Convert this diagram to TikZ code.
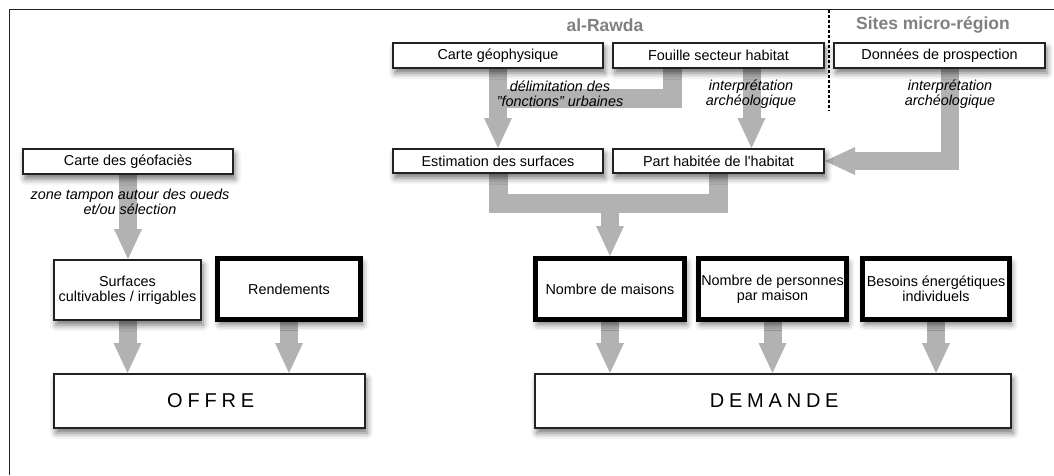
\documentclass[tikz,border=0pt]{standalone}
\usepackage{fontspec}
\setmainfont{Liberation Sans}
\usetikzlibrary{arrows.meta,shadows.blur}
\definecolor{flux}{RGB}{178,178,178}
\definecolor{titre}{RGB}{128,128,128}
\definecolor{trait}{RGB}{34,34,34}
\pgfdeclarelayer{bg}
\pgfsetlayers{bg,main}

\begin{document}
\begin{tikzpicture}[x=1pt, y=-1pt,
  box/.style={draw=trait, line width=2pt, fill=white, inner sep=0pt, align=center,
    font=\fontsize{14.4}{15}\selectfont,
    blur shadow={shadow xshift=2pt, shadow yshift=-5pt, shadow blur radius=6pt, shadow opacity=55}},
  fat/.style={box, draw=black, line width=5pt},
  big/.style={box, font=\fontsize{20}{22}\selectfont\addfontfeature{LetterSpace=24}},
  note/.style={align=center, inner sep=0pt, font=\fontsize{14.4}{14.5}\selectfont\itshape},
  head/.style={text=titre, font=\fontsize{17.5}{18}\selectfont\bfseries},
  flow/.style={draw=flux, line width=18pt, -{Triangle[width=28pt,length=30pt,line width=0pt]}},
  bar/.style={draw=flux, line width=19pt}]
\useasboundingbox (0,0) rectangle (1054,475);
\draw[trait, line width=1.5pt] (9.5,475) -- (9.5,9.5) -- (1054,9.5);
\draw[line width=2pt, dash pattern=on 3pt off 2pt] (829,9.5) -- (829,110);
\node[head] (T_0) at (605,25) {al-Rawda};
\node[head] (T_1) at (933,25) {Sites micro-région};
\node[box, minimum width=210pt, minimum height=25pt] (P_0_0) at (498,55.5) {Carte géophysique};
\node[box, minimum width=211pt, minimum height=25pt] (P_0_1) at (718.5,55.5) {Fouille secteur habitat};
\node[box, minimum width=211pt, minimum height=25pt] (P_0_2) at (939.5,55.5) {Données de prospection};
\node[box, minimum width=210pt, minimum height=24pt] (P_1_0) at (498,161) {Estimation des surfaces};
\node[box, minimum width=211pt, minimum height=24pt] (P_1_1) at (718.5,161) {Part habitée de l{\textquotesingle}habitat};
\node[fat, minimum width=149pt, minimum height=61pt] (P_2_0) at (610,289) {Nombre de maisons};
\node[fat, minimum width=148pt, minimum height=61pt] (P_2_1) at (772.5,289) {Nombre de personnes\\par maison};
\node[fat, minimum width=147pt, minimum height=61pt] (P_2_2) at (936,289) {Besoins énergétiques\\individuels};
\node[big, minimum width=476pt, minimum height=54pt] (P_3_0) at (773,401) {DEMANDE\hspace{-2.4pt}};
\node[box, minimum width=210pt, minimum height=25pt] (Q_0_0) at (128,161.5) {Carte des géofaciès};
\node[box, minimum width=147pt, minimum height=60pt] (Q_1_0) at (127.5,290) {Surfaces\\cultivables / irrigables};
\node[fat, minimum width=143pt, minimum height=61pt] (Q_1_1) at (289,289) {Rendements};
\node[big, minimum width=311pt, minimum height=54pt] (Q_2_0) at (209.5,401) {OFFRE\hspace{-2.4pt}};
\coordinate (J) at (610,205);
\begin{pgfonlayer}{bg}
\draw[flow] (P_0_0) -- (P_1_0);
\draw[bar] ([xshift=-46pt]P_0_1.south) |- ([yshift=-29pt]P_0_0.south);
\draw[flow] ([xshift=33pt]P_0_1.south) -- ([xshift=33pt]P_1_1.north);
\draw[flow] ([xshift=10pt]P_0_2.south) |- (P_1_1.east);
\draw[bar] (P_1_0.south) -- ++(0,29.5) -| (P_1_1.south);
\draw[flow] (J) -- (P_2_0.north);
\draw[flow] (Q_0_0.south) -- (Q_0_0.south |- Q_1_0.north);
\foreach \n in {Q_1_0,Q_1_1}
  \draw[flow] (\n.south) -- (\n.south |- Q_2_0.north);
\foreach \n in {P_2_0,P_2_1,P_2_2}
  \draw[flow] (\n.south) -- (\n.south |- P_3_0.north);
\end{pgfonlayer}
\node[note] (L_0) at (560,94) {délimitation des\\"fonctions" urbaines};
\node[note] (L_1) at (751,94) {interprétation\\archéologique};
\node[note] (L_2) at (950,94) {interprétation\\archéologique};
\node[note] (L_3) at (130,202) {zone tampon autour des oueds\\et/ou sélection};
\end{tikzpicture}
\end{document}
